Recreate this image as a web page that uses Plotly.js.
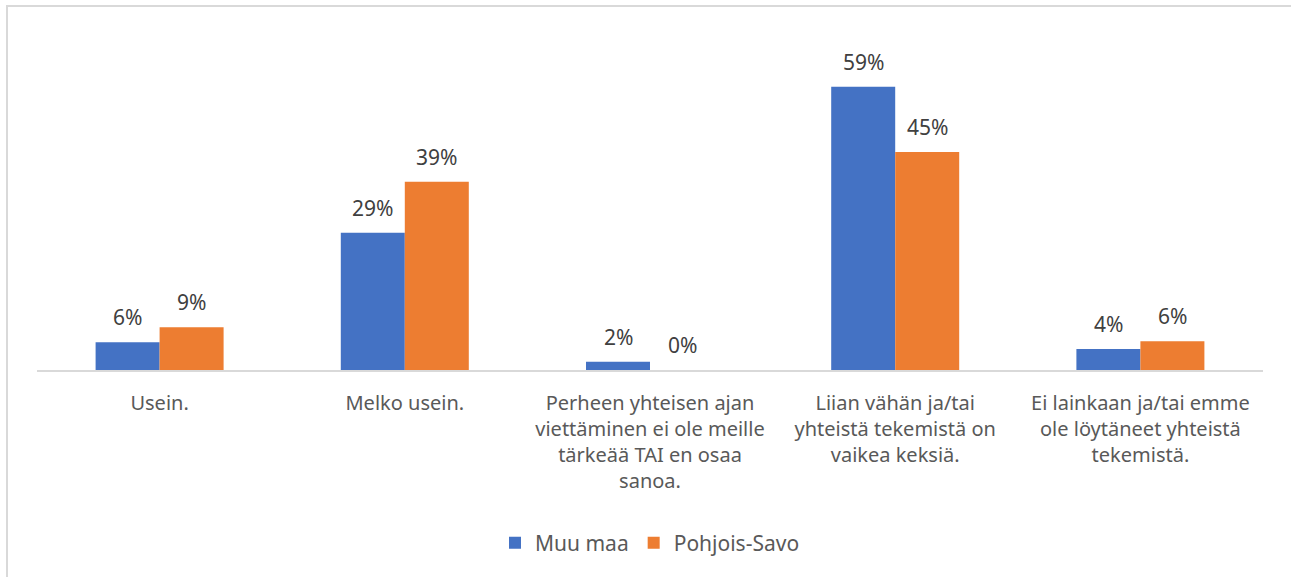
<!DOCTYPE html>
<html>
<head>
<meta charset="utf-8">
<script src="https://cdn.plot.ly/plotly-3.0.1.min.js"></script>
<style>
  html, body { margin: 0; padding: 0; background: #ffffff; overflow: hidden; }
  #frame { position: absolute; left: 6px; top: 5px; width: 1300px; height: 600px; border: 2px solid #d9d9d9; box-sizing: border-box; }
  #chart { position: absolute; left: 0; top: 0; width: 1291px; height: 577px; }
</style>
</head>
<body>
<div id="frame"></div>
<div id="chart"></div>
<script>
const categories = [
  "Usein.",
  "Melko usein.",
  "Perheen yhteisen ajan<br>viettäminen ei ole meille<br>tärkeää TAI en osaa<br>sanoa.",
  "Liian vähän ja/tai<br>yhteistä tekemistä on<br>vaikea keksiä.",
  "Ei lainkaan ja/tai emme<br>ole löytäneet yhteistä<br>tekemistä."
];
const seriesNames = ["Muu maa", "Pohjois-Savo"];
const muuMaa = [5.8, 28.6, 1.7, 59.0, 4.4];
const pohjoisSavo = [8.9, 39.2, 0.0, 45.4, 6.0];
const colors = ["#4472c4", "#ed7d31"];

const seriesValues = [muuMaa, pohjoisSavo];
const traces = seriesValues.map((vals, i) => ({
  type: "bar",
  name: seriesNames[i],
  x: categories,
  y: vals,
  marker: { color: colors[i], line: { width: 0 } },
  hoverinfo: "skip"
}));

const FONT = "Noto Sans, Open Sans, sans-serif";
const annotations = [];
seriesValues.forEach((vals, i) => {
  vals.forEach((v, j) => {
    annotations.push({
      x: categories[j], y: v, xref: "x", yref: "y",
      text: Math.round(v) + "%",
      showarrow: false,
      xshift: i === 0 ? -32 : 32,
      yanchor: "middle",
      yshift: 25,
      font: { family: FONT, size: 21, color: "#404040" }
    });
  });
});

const layout = {
  width: 1291, height: 577,
  margin: { l: 37, r: 28, t: 34, b: 207 },
  paper_bgcolor: "rgba(0,0,0,0)",
  plot_bgcolor: "rgba(0,0,0,0)",
  barmode: "group",
  bargap: 0.478,
  bargroupgap: 0,
  font: { family: FONT, color: "#595959", size: 20 },
  xaxis: {
    showline: true, linecolor: "#d9d9d9", linewidth: 2,
    ticks: "", showgrid: false, zeroline: false,
    tickfont: { family: FONT, size: 20, color: "#595959" },
    ticklabelstandoff: 14,
    fixedrange: true
  },
  yaxis: {
    range: [0, 70], visible: false, showgrid: false, zeroline: false, fixedrange: true
  },
  showlegend: true,
  legend: {
    orientation: "h", x: 0.5, xanchor: "center", y: -0.515, yanchor: "middle",
    font: { family: FONT, size: 21, color: "#595959" }, traceorder: "normal"
  },
  annotations: annotations
};

Plotly.newPlot("chart", traces, layout, { displayModeBar: false, staticPlot: true });
</script>
</body>
</html>
